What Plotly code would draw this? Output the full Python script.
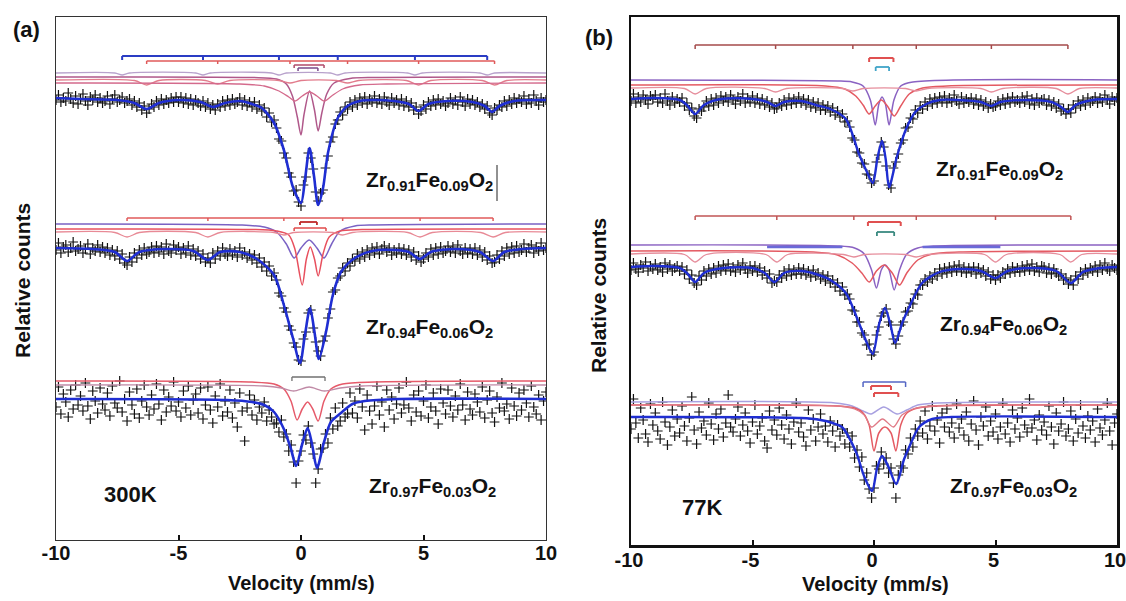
import numpy as np
import plotly.graph_objects as go

W, H = 1126, 601

# velocity channels (mm/s)
VEL = np.round(np.linspace(-10, 10, 201), 2)

# ---- measured spectra: absorption depth below each spectrum's baseline (arb. units) ----
A1_DATA = [2, -3, 4, 0, 3, -5, 1, 5, -2, 6,
           1, -4, 3, 7, -1, 2, -3, 4, 0, 5,
           3, -2, 6, 1, -3, 4, 2, -1, 5, 3,
           1, 7, 3, 9, 5, 12, 8, 15, 11, 6,
           9, 3, 7, 1, 6, 2, 5, 0, 4, -1,
           4, -1, 5, 0, 6, 1, 7, 2, 5, 8,
           3, 9, 5, 11, 7, 12, 6, 9, 3, 8,
           2, 7, 1, 6, 4, 0, 7, 2, 8, 4,
           9, 4, 11, 7, 13, 10, 19, 15, 24, 22,
           30, 41, 43, 55, 60, 75, 79, 93, 92, 104,
           108, 87, 79, 55, 60, 71, 94, 103, 95, 92,
           70, 58, 44, 39, 26, 22, 14, 17, 9, 11,
           4, 9, 2, 7, 0, 5, -1, 6, 1, 4,
           -2, 5, 1, 6, -1, 4, 7, 0, 5, 2,
           7, 1, 8, 3, 9, 5, 12, 9, 16, 13,
           7, 11, 4, 8, 2, 7, 1, 6, 3, 8,
           5, 0, 6, 2, 7, -1, 4, 8, 1, 6,
           2, 7, 4, 9, 6, 11, 8, 15, 17, 10,
           12, 7, 9, 3, 8, 2, 6, 0, 5, 1,
           4, -2, 6, 1, 5, -3, 3, 7, 0, 4, 2]
A2_DATA = [3, -4, 6, 0, -2, 5, 1, -5, 4, 2,
           -1, 6, 2, -3, 7, 1, 4, -2, 5, 0,
           6, 1, 8, 3, 9, 4, 12, 7, 16, 18,
           10, 15, 6, 11, 3, 8, 1, 7, 5, 0,
           6, -1, 5, 0, 7, -3, 4, 6, -2, 3,
           0, 7, 1, 6, -1, 8, 2, 9, 4, 12,
           7, 15, 11, 16, 6, 12, 4, 9, 1, 7,
           9, 2, 8, 4, 10, 1, 8, 5, 11, 7,
           13, 8, 16, 11, 20, 15, 24, 19, 29, 26,
           33, 46, 49, 61, 65, 79, 83, 96, 100, 113,
           114, 92, 85, 66, 63, 81, 95, 104, 109, 94,
           89, 71, 62, 45, 43, 31, 29, 21, 24, 16,
           19, 12, 14, 7, 12, 5, 10, 3, 8, 1,
           6, 0, 7, 2, -1, 5, 1, 8, 3, 6,
           1, 7, 2, 8, 3, 10, 5, 13, 9, 15,
           12, 6, 10, 2, 8, 1, 7, 0, 6, 4,
           -1, 5, 0, 6, -2, 4, 7, 1, 6, 2,
           7, 1, 8, 3, 10, 5, 13, 9, 16, 15,
           8, 12, 4, 9, 1, 7, 0, 6, -1, 5,
           3, -3, 5, 1, -2, 6, 0, 4, -4, 3, 1]
A3_DATA = [8, -12, 15, -5, 3, 18, -9, 10, -14, 6,
           -3, 12, -16, 7, 20, -8, 2, 14, -11, 5,
           11, -6, 17, -13, 4, 9, -18, 13, 0, 22,
           -7, 6, 15, -10, 19, 2, -14, 8, 16, -4,
           10, -15, 5, 21, -9, 13, -2, 7, -17, 12,
           3, 18, -8, 9, -13, 16, 1, -5, 14, -11,
           20, 6, -12, 11, 24, -3, 8, -15, 17, 2,
           13, -9, 19, 4, 28, -6, 12, 42, 9, -4,
           16, 1, 21, 8, 14, 3, 22, 11, 18, 25,
           24, 33, 21, 38, 35, 52, 46, 63, 84, 62,
           52, 36, 41, 27, 44, 55, 84, 70, 50, 49,
           35, 44, 19, 30, 9, 27, 22, 4, 18, 15,
           -6, 14, 2, 19, -10, 8, 31, -4, 12, 25,
           7, -13, 16, 3, 28, -9, 11, -2, 20, 5,
           -11, 14, 6, -17, 9, 22, -4, 13, -8, 17,
           2, -14, 19, 8, -6, 12, 25, -10, 4, 15,
           -9, 7, 18, -3, 11, -15, 6, 21, -7, 10,
           16, -5, 3, 13, -12, 19, 1, -8, 14, 23,
           -2, 9, -16, 12, 5, 20, -11, 7, 17, -6,
           11, -9, 4, 18, -13, 8, 15, -4, 21, 2, -7]
B1_DATA = [4, -3, 6, 0, 5, -2, 3, 7, -1, 2,
           -2, 5, 1, 6, -3, 4, 8, 0, 6, 2,
           5, 1, 9, 6, 13, 11, 19, 21, 12, 14,
           10, 4, 9, 2, 8, 1, 6, -1, 4, 0,
           5, -2, 3, 7, 0, 4, -3, 6, 1, 5,
           -1, 6, 1, 7, 2, 8, 4, 10, 6, 12,
           11, 6, 9, 3, 8, 1, 7, 2, 6, 0,
           6, 2, 8, 3, 10, 5, 11, 6, 13, 8,
           13, 9, 15, 11, 18, 14, 20, 17, 25, 24,
           30, 41, 43, 55, 56, 66, 67, 77, 78, 86,
           84, 65, 58, 45, 50, 69, 88, 91, 71, 65,
           57, 46, 43, 31, 30, 21, 22, 13, 16, 9,
           12, 5, 9, 2, 7, 1, 6, 0, 5, -1,
           6, 1, 5, -2, 4, 7, 0, 6, 2, 5,
           1, 7, 2, 8, 3, 9, 5, 11, 7, 10,
           9, 4, 8, 2, 7, 1, 6, 0, 5, 3,
           6, 0, 5, -1, 7, 2, 8, 1, 6, 3,
           2, 8, 3, 9, 5, 11, 7, 14, 12, 17,
           12, 16, 8, 11, 4, 9, 3, 8, 1, 6,
           4, 0, 6, 1, 5, -2, 3, 7, 0, 4, 1]
B2_DATA = [5, -2, 4, 7, 0, 3, -3, 6, 1, 4,
           -1, 5, 2, 7, -2, 4, 0, 6, 3, 1,
           6, 2, 9, 5, 14, 10, 18, 20, 11, 15,
           6, 11, 4, 9, 3, 8, 1, 6, 0, 5,
           -1, 6, 2, 7, 0, 5, -2, 4, 8, 1,
           6, 1, 7, 3, 10, 6, 13, 9, 18, 16,
           17, 10, 13, 6, 11, 4, 10, 5, 9, 3,
           9, 4, 10, 6, 12, 5, 11, 8, 14, 10,
           16, 11, 18, 15, 22, 18, 26, 22, 30, 29,
           34, 45, 46, 57, 57, 68, 70, 80, 79, 90,
           87, 70, 62, 51, 48, 44, 57, 60, 74, 79,
           71, 60, 57, 47, 46, 38, 39, 29, 30, 20,
           20, 14, 17, 11, 14, 8, 11, 4, 9, 3,
           8, 2, 7, 1, 6, 0, 7, 2, 8, 3,
           7, 2, 9, 3, 8, 5, 11, 7, 14, 10,
           15, 10, 13, 7, 9, 4, 8, 2, 7, 3,
           7, 1, 6, 0, 5, -1, 6, 2, 7, 1,
           2, 8, 3, 9, 4, 8, 11, 9, 15, 13,
           19, 15, 20, 11, 14, 7, 10, 4, 8, 3,
           6, 1, 7, 0, 5, -2, 4, 6, 0, 3, 5]
B3_DATA = [12, -18, 6, 21, -9, 3, 17, 25, -13, 8,
           -4, 14, 22, -15, 5, 28, 10, -7, 19, 2,
           16, -11, 9, 24, 1, -20, 13, 27, -5, 11,
           4, 18, -14, 7, 23, -3, 12, -8, 20, 6,
           -22, 10, 15, 2, -10, 19, 8, -4, 14, 26,
           5, -12, 17, 9, 1, 24, 31, -6, 13, 3,
           18, -9, 8, 22, -2, 12, 27, 5, -14, 15,
           6, 20, 29, -7, 13, 2, 24, 10, -3, 17,
           9, 25, 4, 14, 30, 8, 19, 12, 27, 16,
           30, 19, 41, 33, 50, 40, 63, 56, 72, 81,
           71, 49, 52, 35, 47, 41, 56, 51, 66, 81,
           58, 49, 51, 33, 37, 21, 30, 12, 19, 4,
           16, -6, 22, 9, -11, 14, 3, 26, -4, 10,
           -8, 15, 6, 21, -13, 11, 2, 18, -5, 24,
           7, -16, 13, 28, 0, 9, -10, 19, 4, 15,
           -3, 22, 10, -14, 17, 6, 25, -7, 12, 1,
           20, -9, 8, 15, -18, 11, 3, 23, -2, 13,
           5, 18, -11, 10, 27, -4, 14, 7, -15, 19,
           12, -6, 24, 2, 16, -12, 9, 21, -1, 13,
           4, 25, -8, 11, 18, 3, -14, 14, 28, 6, -3]

# ---- fitted envelopes: (velocity, depth) points ----
A1_FIT = [(-10, 0), (-9, 1), (-7.5, 2), (-6.8, 5), (-6.3, 11), (-5.8, 5), (-5.0, 2), (-4.1, 4),
          (-3.6, 9), (-3.1, 5), (-2.5, 3), (-2.0, 6), (-1.6, 10), (-1.1, 25), (-0.7, 52),
          (-0.33, 89), (0, 105), (0.17, 80), (0.35, 50), (0.53, 78), (0.7, 107), (0.9, 90),
          (1.1, 55), (1.5, 20), (1.9, 8), (2.4, 3), (3.0, 2), (3.8, 3), (4.4, 6), (4.8, 13),
          (5.2, 6), (6.0, 3), (7.0, 4), (7.5, 8), (7.8, 14), (8.1, 8), (8.7, 3), (10, 2)]
A2_FIT = [(-10, 1), (-8.5, 2), (-7.6, 5), (-7.1, 14), (-6.6, 5), (-5.5, 2), (-4.4, 4), (-3.8, 13),
          (-3.3, 5), (-2.5, 5), (-1.8, 12), (-1.1, 28), (-0.7, 58), (-0.33, 91), (-0.04, 116),
          (0.16, 88), (0.37, 61), (0.55, 85), (0.73, 112), (1.02, 85), (1.3, 48), (1.63, 25),
          (2.2, 11), (2.9, 4), (3.8, 3), (4.4, 5), (4.86, 12), (5.3, 5), (6.3, 2), (7.3, 5),
          (7.84, 14), (8.3, 5), (9.0, 2), (10, 1)]
A3_FIT = [(-10, 0), (-3, 1), (-2, 3), (-1.5, 6), (-1.1, 13), (-0.7, 30), (-0.41, 50), (-0.2, 67),
          (0.05, 45), (0.27, 29), (0.45, 45), (0.65, 69), (0.94, 43), (1.22, 23), (1.63, 14),
          (2.1, 5), (2.6, 2), (4, 0), (10, 0)]
B1_FIT = [(-10, 2), (-9, 1), (-8, 3), (-7.7, 8), (-7.36, 17), (-7.0, 8), (-6.3, 2), (-5.0, 2),
          (-4.4, 5), (-4.05, 9), (-3.7, 5), (-3.0, 4), (-2.4, 8), (-1.8, 12), (-1.16, 22),
          (-0.62, 57), (-0.29, 75), (-0.05, 86), (0.15, 60), (0.33, 44), (0.48, 62), (0.62, 90),
          (0.95, 59), (1.32, 32), (1.7, 15), (2.15, 7), (2.7, 3), (3.5, 3), (4.4, 5), (4.83, 9),
          (5.2, 5), (6.2, 3), (7.3, 5), (7.7, 10), (7.98, 15), (8.3, 8), (9, 3), (10, 2)]
B2_FIT = [(-10, 2), (-9, 1), (-8, 3), (-7.7, 8), (-7.36, 17), (-7.0, 8), (-6.2, 3), (-5.0, 3),
          (-4.5, 8), (-4.1, 17), (-3.7, 8), (-3.0, 6), (-2.4, 9), (-1.8, 15), (-1.16, 28),
          (-0.62, 58), (-0.29, 78), (-0.05, 89), (0.2, 60), (0.45, 43), (0.68, 60), (0.87, 78),
          (1.16, 58), (1.45, 42), (1.98, 18), (2.7, 7), (3.5, 4), (4.4, 6), (5.0, 13), (5.5, 6),
          (6.5, 3), (7.5, 6), (8.1, 18), (8.6, 7), (9.3, 3), (10, 2)]
B3_FIT = [(-10, 0), (-3, 1), (-2.2, 3), (-1.7, 6), (-1.32, 10), (-0.74, 35), (-0.41, 59),
          (-0.08, 74), (0.12, 52), (0.33, 39), (0.6, 50), (0.91, 67), (1.24, 42), (1.45, 30),
          (1.86, 10), (2.4, 2), (3.2, 0), (10, 0)]

# ---- sub-spectra: (velocity, depth) points ----
A1_SUB_SEXTET_BLUE = [(-10, 0), (-7.6, 0), (-7.3, 2), (-7.0, 0), (-4.3, 0), (-4.0, 2), (-3.7, 0),
                      (-1.2, 0), (-0.9, 2), (-0.6, 0), (1.2, 0), (1.5, 2), (1.8, 0), (4.35, 0),
                      (4.65, 2), (4.95, 0), (7.3, 0), (7.6, 2), (7.9, 0), (10, 0)]
A1_SUB_DOUBLET_1 = [(-10, 0), (-2, 0.5), (-1.0, 2), (-0.6, 7), (-0.35, 19), (-0.15, 40), (0, 58),
                    (0.12, 38), (0.35, 14), (0.55, 33), (0.7, 54), (0.85, 36), (1.05, 17),
                    (1.35, 6), (2, 1.5), (3, 0.5), (10, 0)]
A1_SUB_SEXTET_RED = [(-10, 0), (-6.8, 0.5), (-6.3, 5), (-5.8, 0.5), (-3.9, 0.5), (-3.4, 4),
                     (-2.9, 0.5), (-0.9, 0.5), (-0.45, 3), (0, 0.5), (1.45, 0.5), (1.9, 3),
                     (2.35, 0.5), (4.3, 0.5), (4.8, 5), (5.3, 0.5), (7.4, 0.5), (7.9, 5),
                     (8.4, 0.5), (10, 0)]
A1_SUB_DOUBLET_2 = [(-10, 0), (-2.5, 1), (-1.5, 3), (-0.9, 8), (-0.5, 14), (-0.25, 18), (0.05, 13),
                    (0.35, 9), (0.65, 13), (0.95, 18), (1.25, 13), (1.7, 6), (2.4, 2), (3.5, 1),
                    (10, 0)]
A2_SUB_DOUBLET_1 = [(-10, 0), (-2.5, 1), (-1.5, 3), (-1.0, 8), (-0.6, 20), (-0.28, 34), (0.0, 24),
                    (0.33, 16), (0.65, 24), (0.94, 34), (1.25, 20), (1.6, 7), (2.2, 2), (3, 1),
                    (10, 0)]
A2_SUB_DOUBLET_2 = [(-10, 0), (-2, 0.5), (-1.0, 2), (-0.5, 6), (-0.25, 20), (0.05, 56), (0.22, 30),
                    (0.38, 18), (0.55, 30), (0.7, 47), (0.9, 25), (1.15, 8), (1.6, 2), (2.5, 0.5),
                    (10, 0)]
A2_SUB_SEXTET = [(-10, 0), (-7.6, 0.5), (-7.1, 5), (-6.6, 0.5), (-4.3, 0.5), (-3.8, 5), (-3.3, 0.5),
                 (-1.1, 0.5), (-0.7, 3), (-0.3, 0.5), (1.3, 0.5), (1.7, 3), (2.1, 0.5), (4.36, 0.5),
                 (4.86, 5), (5.36, 0.5), (7.34, 0.5), (7.84, 5), (8.34, 0.5), (10, 0)]
A3_SUB_DOUBLET_1 = [(-10, 0), (-2, 1), (-1.1, 3), (-0.7, 8), (-0.41, 20), (-0.16, 39), (0.05, 28),
                    (0.27, 21), (0.48, 28), (0.7, 40), (0.94, 20), (1.22, 8), (1.7, 3), (3, 1),
                    (10, 0)]
A3_SUB_DOUBLET_2 = [(-10, 0), (-1.5, 1), (-0.8, 3), (-0.3, 6), (0.33, 2), (0.95, 6), (1.6, 3),
                    (2.5, 1), (10, 0)]
B1_SUB_DOUBLET_1 = [(-10, 0), (-1.5, 1), (-0.9, 2), (-0.45, 6), (-0.15, 20), (0.05, 45), (0.2, 24),
                    (0.33, 17), (0.47, 24), (0.62, 45), (0.82, 20), (1.1, 6), (1.6, 2), (10, 0)]
B1_SUB_DOUBLET_2 = [(-10, 0), (-2, 1), (-1.2, 4), (-0.75, 11), (-0.45, 20), (-0.2, 29), (0.05, 21),
                    (0.3, 15), (0.55, 21), (0.83, 31), (1.1, 21), (1.45, 9), (2, 3), (3, 1), (10, 0)]
B1_SUB_SEXTET = [(-10, 0), (-7.8, 0.5), (-7.36, 6), (-6.9, 0.5), (-4.5, 0.5), (-4.05, 4),
                 (-3.6, 0.5), (-1.3, 0.5), (-0.87, 3), (-0.45, 0.5), (1.3, 0.5), (1.74, 3),
                 (2.2, 0.5), (4.4, 0.5), (4.83, 4), (5.3, 0.5), (7.5, 0.5), (7.98, 6), (8.45, 0.5),
                 (10, 0)]
B2_SUB_DOUBLET_1 = [(-10, 0), (-1.5, 1), (-0.8, 3), (-0.4, 9), (-0.1, 25), (0.1, 43), (0.3, 25),
                    (0.45, 20), (0.62, 25), (0.83, 45), (1.05, 25), (1.35, 9), (1.8, 3), (2.5, 1),
                    (10, 0)]
B2_SUB_DOUBLET_2 = [(-10, 0), (-2.5, 1), (-1.5, 4), (-0.9, 12), (-0.5, 22), (-0.2, 31), (0.1, 20),
                    (0.42, 14), (0.75, 22), (1.05, 34), (1.35, 22), (1.8, 9), (2.4, 3), (3.5, 1),
                    (10, 0)]
B2_SUB_SEXTET = [(-10, 0), (-7.8, 0.5), (-7.36, 8), (-6.9, 0.5), (-4.45, 0.5), (-4.0, 8),
                 (-3.55, 0.5), (-1.25, 0.5), (-0.83, 3), (-0.4, 0.5), (1.3, 0.5), (1.74, 3),
                 (2.2, 0.5), (4.55, 0.5), (5.0, 8), (5.45, 0.5), (7.65, 0.5), (8.1, 8), (8.55, 0.5),
                 (10, 0)]
B2_SUB_BLUE_SPANS = [(-4.4, -1.3), (2.0, 5.2)]
B3_SUB_DOUBLET_1 = [(-10, 0), (-1.6, 1), (-0.9, 4), (-0.45, 9), (-0.12, 12), (0.4, 5), (0.95, 12),
                    (1.35, 8), (1.8, 3), (2.6, 1), (10, 0)]
B3_SUB_DOUBLET_2 = [(-10, 0), (-1.5, 1), (-0.8, 3), (-0.45, 8), (-0.2, 20), (0, 46), (0.2, 28),
                    (0.45, 22), (0.7, 28), (0.9, 46), (1.1, 20), (1.35, 8), (1.8, 3), (2.6, 1),
                    (10, 0)]
B3_SUB_DOUBLET_3 = [(-10, 0), (-1.5, 1), (-0.8, 4), (-0.4, 10), (-0.1, 22), (0.35, 14), (0.8, 22),
                    (1.15, 10), (1.6, 4), (2.4, 1), (10, 0)]

# ---- line positions of the stick diagrams (mm/s) ----
A1_STICK_SEXTET_BLUE = [-7.3, -4.0, -0.9, 1.5, 4.65, 7.6]
A1_STICK_SEXTET_RED = [-6.3, -3.4, -0.45, 1.9, 4.8, 7.9]
A1_STICK_DOUBLET_1 = [-0.28, 0.94]
A1_STICK_DOUBLET_2 = [-0.12, 0.69]
A2_STICK_SEXTET = [-7.1, -3.8, -0.7, 1.7, 4.86, 7.84]
A2_STICK_DOUBLET_1 = [-0.04, 0.65]
A2_STICK_DOUBLET_2 = [-0.28, 1.02]
A3_STICK_DOUBLET = [-0.37, 0.98]
B1_STICK_SEXTET = [-7.36, -4.05, -0.87, 1.74, 4.83, 7.98]
B1_STICK_DOUBLET_1 = [-0.2, 0.8]
B1_STICK_DOUBLET_2 = [0.07, 0.62]
B2_STICK_SEXTET = [-7.36, -4.0, -0.83, 1.74, 5.0, 8.1]
B2_STICK_DOUBLET_1 = [-0.25, 1.1]
B2_STICK_DOUBLET_2 = [0.12, 0.83]
B3_STICK_DOUBLET_1 = [-0.45, 1.3]
B3_STICK_DOUBLET_2 = [-0.12, 0.7]
B3_STICK_DOUBLET_3 = [0.0, 1.0]

X_TICKS = [-10, -5, 0, 5, 10]
X_TICK_LABELS = ["-10", "-5", "0", "5", "10"]
SAMPLE_LABELS = ["Zr<sub>0.91</sub>Fe<sub>0.09</sub>O<sub>2</sub>",
                 "Zr<sub>0.94</sub>Fe<sub>0.06</sub>O<sub>2</sub>",
                 "Zr<sub>0.97</sub>Fe<sub>0.03</sub>O<sub>2</sub>"]
TEMPS = ["300K", "77K"]

# ---------------- figure ----------------
FIT_BLUE = "#1f2ed2"
fig = go.Figure()
AX = {"a": ("x", "y"), "b": ("x2", "y2")}


def add_data(panel, depth, offset):
    xa, ya = AX[panel]
    fig.add_trace(go.Scatter(x=VEL, y=offset - np.asarray(depth, float), mode="markers",
                             xaxis=xa, yaxis=ya, hoverinfo="skip",
                             marker=dict(symbol="cross-thin", size=7, color="#111",
                                         line=dict(width=1.2, color="#111"))))


def add_curve(panel, pts, offset, color, width):
    xa, ya = AX[panel]
    v = [p[0] for p in pts]
    d = np.array([p[1] for p in pts], float)
    fig.add_trace(go.Scatter(x=v, y=offset - d, mode="lines", xaxis=xa, yaxis=ya,
                             hoverinfo="skip", line=dict(color=color, width=width,
                                                         shape="spline", smoothing=0.8)))


def add_stick(panel, positions, level, tick, color, width):
    xa, ya = AX[panel]
    xs, ys = [positions[0], positions[-1], None], [level, level, None]
    for p in positions:
        xs += [p, p, None]
        ys += [level, level - tick, None]
    fig.add_trace(go.Scatter(x=xs, y=ys, mode="lines", xaxis=xa, yaxis=ya, hoverinfo="skip",
                             line=dict(color=color, width=width)))


# panel (a)
add_data("a", A1_DATA, 442)
add_data("a", A2_DATA, 293)
add_data("a", A3_DATA, 141)
add_curve("a", A1_SUB_SEXTET_BLUE, 467, "#b8a2cc", 1.3)
add_curve("a", A1_SUB_DOUBLET_1, 463, "#b0588a", 1.5)
add_curve("a", A1_SUB_SEXTET_RED, 460, "#e27c8c", 1.3)
add_curve("a", A1_SUB_DOUBLET_2, 457, "#d46a8c", 1.3)
add_curve("a", A2_SUB_DOUBLET_1, 316, "#7a62c4", 1.5)
add_curve("a", A2_SUB_DOUBLET_2, 311, "#e8505e", 1.5)
add_curve("a", A2_SUB_SEXTET, 308, "#e88a96", 1.3)
add_curve("a", A3_SUB_DOUBLET_1, 159, "#e65a6a", 1.5)
add_curve("a", A3_SUB_DOUBLET_2, 155, "#c08aa6", 1.3)
add_curve("a", A1_FIT, 442, FIT_BLUE, 2.6)
add_curve("a", A2_FIT, 293, FIT_BLUE, 2.6)
add_curve("a", A3_FIT, 141, FIT_BLUE, 2.6)
add_stick("a", A1_STICK_SEXTET_BLUE, 484, 4, "#2a3cc4", 2)
add_stick("a", A1_STICK_SEXTET_RED, 479, 3, "#e05a5a", 1.5)
add_stick("a", A1_STICK_DOUBLET_1, 475, 3, "#b04a6a", 1.5)
add_stick("a", A1_STICK_DOUBLET_2, 472, 3, "#7a4a8a", 1.5)
add_stick("a", A2_STICK_SEXTET, 322, 3, "#e05a5a", 1.5)
add_stick("a", A2_STICK_DOUBLET_1, 318, 3, "#c02a2a", 1.8)
add_stick("a", A2_STICK_DOUBLET_2, 312, 3, "#e04a4a", 1.5)
add_stick("a", A3_STICK_DOUBLET, 163, 4, "#707070", 1.3)

# panel (b)
add_data("b", B1_DATA, 448)
add_data("b", B2_DATA, 280)
add_data("b", B3_DATA, 128)
add_curve("b", B1_SUB_DOUBLET_1, 465, "#8a62c2", 1.5)
add_curve("b", B1_SUB_DOUBLET_2, 460, "#e45a62", 1.5)
add_curve("b", B1_SUB_SEXTET, 457, "#e68e9c", 1.3)
add_curve("b", B2_SUB_DOUBLET_1, 300, "#8a62c2", 1.5)
add_curve("b", B2_SUB_DOUBLET_2, 294, "#e45a62", 1.5)
add_curve("b", B2_SUB_SEXTET, 291, "#e68e9c", 1.3)
for span in B2_SUB_BLUE_SPANS:
    add_curve("b", [(span[0], 0), (span[1], 0)], 298, "#6a6ad8", 2.5)
add_curve("b", B3_SUB_DOUBLET_1, 143, "#a8a0e0", 1.5)
add_curve("b", B3_SUB_DOUBLET_2, 140, "#e45a62", 1.5)
add_curve("b", B3_SUB_DOUBLET_3, 140, "#e07a86", 1.3)
add_curve("b", B1_FIT, 448, FIT_BLUE, 2.4)
add_curve("b", B2_FIT, 280, FIT_BLUE, 2.4)
add_curve("b", B3_FIT, 128, FIT_BLUE, 2.4)
add_stick("b", B1_STICK_SEXTET, 500, 4, "#a44a4a", 1.5)
add_stick("b", B1_STICK_DOUBLET_1, 487, 4, "#e05050", 2)
add_stick("b", B1_STICK_DOUBLET_2, 478, 4, "#40a4c8", 1.8)
add_stick("b", B2_STICK_SEXTET, 329, 4, "#c05454", 1.5)
add_stick("b", B2_STICK_DOUBLET_1, 323, 4, "#e05050", 2)
add_stick("b", B2_STICK_DOUBLET_2, 313, 4, "#3a8a80", 1.8)
add_stick("b", B3_STICK_DOUBLET_1, 163, 5, "#5466c4", 1.5)
add_stick("b", B3_STICK_DOUBLET_2, 159, 4, "#e05050", 2)
add_stick("b", B3_STICK_DOUBLET_3, 152, 4, "#e05050", 2)


def px(x):
    return x / W


def py(y):
    return 1 - y / H


FONT = "Liberation Sans, Arial, sans-serif"
tickfont = dict(family=FONT, size=20, color="#111", weight="bold")
xcommon = dict(range=[-10, 10], tickvals=X_TICKS, ticktext=X_TICK_LABELS, ticks="inside",
               ticklen=5, tickwidth=2, tickcolor="#111", showgrid=False, zeroline=False,
               showline=True, mirror=True, tickfont=tickfont, automargin=False,
               ticklabelstandoff=-5, ticklabeloverflow="allow")
ycommon = dict(showticklabels=False, ticks="", showgrid=False, zeroline=False, showline=True,
               mirror=True, automargin=False)

annotations = []


def ann(text, x, y, size, angle=0):
    annotations.append(dict(text="<b>" + text + "</b>", x=px(x), y=py(y), xref="paper",
                            yref="paper", showarrow=False, textangle=angle,
                            xanchor="center", yanchor="middle",
                            font=dict(family=FONT, size=size, color="#111")))


ann("(a)", 26, 30, 22)
ann("(b)", 599, 38, 22)
ann(SAMPLE_LABELS[0], 429, 181, 21)
ann(SAMPLE_LABELS[1], 430, 328, 21)
ann(SAMPLE_LABELS[2], 432, 487, 21)
ann(SAMPLE_LABELS[0], 999, 170, 21)
ann(SAMPLE_LABELS[1], 1003, 325, 21)
ann(SAMPLE_LABELS[2], 1013, 487, 21)
ann(TEMPS[0], 130, 494, 22)
ann(TEMPS[1], 702, 507, 22)
ann("Velocity (mm/s)", 301, 583, 20)
ann("Velocity (mm/s)", 875, 584, 20)
ann("Relative counts", 22, 281, 21, -90)
ann("Relative counts", 598, 296, 21, -90)

fig.update_layout(
    template="none",
    width=W, height=H, margin=dict(l=0, r=0, t=0, b=0, pad=0, autoexpand=False),
    paper_bgcolor="white", plot_bgcolor="white", showlegend=False, hovermode=False,
    xaxis=dict(domain=[px(56), px(546)], anchor="y", linecolor="#333", linewidth=1.3,
               **xcommon),
    yaxis=dict(domain=[py(540), py(17)], range=[0, 523], anchor="x", linecolor="#333",
               linewidth=1.3, **ycommon),
    xaxis2=dict(domain=[px(631), px(1117)], anchor="y2", linecolor="#111", linewidth=2.5,
                ticklabelshift=-2, **xcommon),
    yaxis2=dict(domain=[py(545), py(17)], range=[0, 528], anchor="x2", linecolor="#111",
                linewidth=2.5, **ycommon),
    annotations=annotations,
    shapes=[dict(type="line", xref="paper", yref="paper", x0=px(497), x1=px(497),
                 y0=py(165), y1=py(201), line=dict(color="#222", width=1))],
)

fig.write_html("out.html", config={"displayModeBar": False, "staticPlot": True},
               post_script="document.body.style.margin='0';document.body.style.overflow='hidden';")
